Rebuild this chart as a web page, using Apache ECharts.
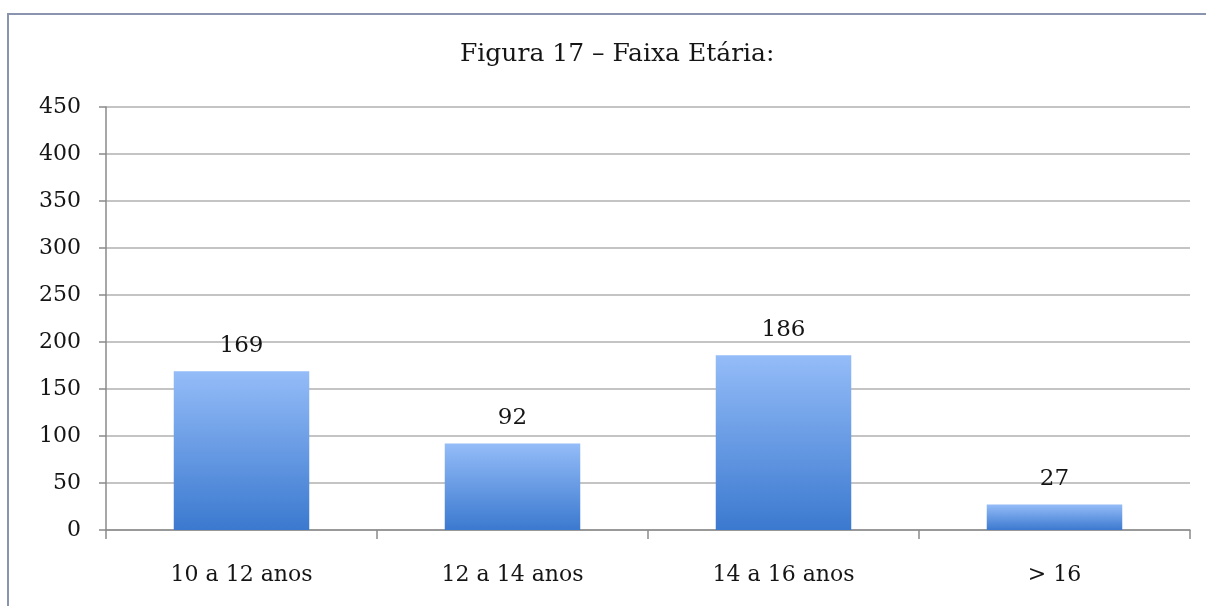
<!DOCTYPE html>
<html>
<head>
<meta charset="utf-8">
<script src="https://cdn.jsdelivr.net/npm/echarts@6/dist/echarts.min.js"></script>
<style>
  html, body { margin: 0; padding: 0; background: #ffffff; }
  #chart { width: 1206px; height: 606px; }
</style>
</head>
<body>
<div id="chart"></div>
<script>
// Age groups and head counts
const categories = ['10 a 12 anos', '12 a 14 anos', '14 a 16 anos', '> 16'];
const counts = [169, 92, 186, 27];
const titleText = 'Figura 17 – Faixa Etária:';

const serif = '"DejaVu Serif", "Liberation Serif", serif';
const chart = echarts.init(document.getElementById('chart'), null, { renderer: 'canvas' });

chart.setOption({
  backgroundColor: '#ffffff',
  animation: false,
  title: {
    text: titleText,
    left: 455,
    top: 37,
    textStyle: { fontFamily: serif, fontSize: 25, fontWeight: 'normal', color: '#151515' }
  },
  graphic: [
    {
      // frame around the figure, running off the right and bottom edges
      type: 'rect',
      silent: true,
      z: -1,
      shape: { x: 8, y: 14, width: 1220, height: 620 },
      style: { fill: 'none', stroke: '#8a94ae', lineWidth: 2 }
    }
  ],
  grid: { left: 106, right: 16, top: 107, bottom: 76 },
  xAxis: {
    type: 'category',
    data: categories,
    axisLine: { lineStyle: { color: '#8a8a8a', width: 1.5 } },
    axisTick: { show: true, length: 9, lineStyle: { color: '#8a8a8a', width: 1.5 } },
    axisLabel: { fontFamily: serif, fontSize: 22, color: '#151515', margin: 34 }
  },
  yAxis: {
    type: 'value',
    min: 0,
    max: 450,
    interval: 50,
    axisLine: { show: true, lineStyle: { color: '#8a8a8a', width: 1.5 } },
    axisTick: { show: true, length: 7, lineStyle: { color: '#8a8a8a', width: 1.5 } },
    axisLabel: { fontFamily: serif, fontSize: 22, color: '#151515', margin: 25 },
    splitLine: { show: true, lineStyle: { color: '#b0b0b0', width: 1.5 } }
  },
  series: [
    {
      type: 'bar',
      data: counts,
      barWidth: '50%',
      itemStyle: {
        color: new echarts.graphic.LinearGradient(0, 0, 0, 1, [
          { offset: 0, color: '#94bcf8' },
          { offset: 1, color: '#3b79cf' }
        ])
      },
      label: {
        show: true,
        position: 'top',
        distance: 14,
        fontFamily: serif,
        fontSize: 23,
        color: '#151515'
      }
    }
  ]
});
</script>
</body>
</html>
